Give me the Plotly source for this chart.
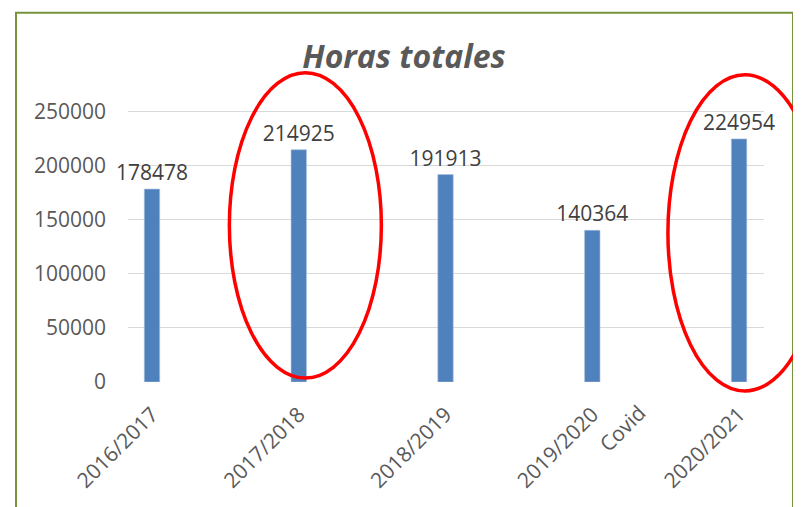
import plotly.graph_objects as go

categories = ["2016/2017", "2017/2018", "2018/2019", "2019/2020", "2020/2021"]
horas = [178478, 214925, 191913, 140364, 224954]
y_ticks = [0, 50000, 100000, 150000, 200000, 250000]
highlighted = [1, 4]  # categories circled in red
note_text = "Covid"
note_category = 3

W, H = 801, 507
OFF = 8  # page body margin offset
L, R, T, B = 128 - OFF, 801 - (764 - OFF), 101.2 - OFF, 507 - (382 - OFF)
xr = [-0.1635, 4.17]
yr = [0, 260000]
FONT = "Open Sans"

x_idx = list(range(len(categories)))

fig = go.Figure(go.Bar(
    x=x_idx, y=horas, width=0.105,
    marker=dict(color="#4F81BD", line=dict(color="#A9C0DE", width=0.6)),
    text=[str(v) for v in horas], textposition="outside",
    constraintext="none",
    textfont=dict(family=FONT, size=21, color="#404040"),
    cliponaxis=False,
))

pw = W - L - R
ph = H - T - B
def px_x(p):
    return (p - OFF - L) / pw
def px_y(p):
    return (H - B - (p - OFF)) / ph
def xp(v):
    return (v - xr[0]) / (xr[1] - xr[0])

shapes = []
# green chart border
shapes.append(dict(type="rect", xref="paper", yref="paper",
                   x0=px_x(16), x1=px_x(793), y0=px_y(530), y1=px_y(13),
                   line=dict(color="#77933C", width=2), fillcolor="rgba(0,0,0,0)"))
# red ellipses
for i, (dx, half_w, top_py, bot_py) in zip(highlighted, [(0.045, 76, 73, 378), (0.04, 77, 75, 391)]):
    c = xp(i + dx)
    shapes.append(dict(type="circle", xref="paper", yref="paper",
                       x0=c - half_w / pw, x1=c + half_w / pw,
                       y0=px_y(bot_py), y1=px_y(top_py),
                       line=dict(color="#FF0000", width=3.5)))

annotations = [dict(text=note_text, xref="paper", yref="paper",
                    x=xp(note_category + 0.205), y=px_y(428),
                    xanchor="center", yanchor="middle", textangle=-45,
                    showarrow=False,
                    font=dict(family=FONT, size=21, color="#595959"))]

fig.update_layout(
    width=W, height=H,
    margin=dict(l=L, r=R, t=T, b=B, autoexpand=False),
    paper_bgcolor="white", plot_bgcolor="white",
    showlegend=False,
    title=dict(text="<b><i>Horas totales</i></b>", x=(404 - OFF) / W, xanchor="center",
               y=1 - (57 - OFF) / H, yanchor="middle",
               font=dict(family=FONT, size=32, color="#595959")),
    xaxis=dict(range=xr, tickmode="array", tickvals=x_idx, ticktext=categories,
               tickangle=-45, showgrid=False, zeroline=False, showline=False,
               ticks="", ticklabelstandoff=15, automargin=False,
               tickfont=dict(family=FONT, size=21, color="#595959")),
    yaxis=dict(range=yr, tickmode="array", tickvals=y_ticks,
               ticktext=[str(v) for v in y_ticks],
               showgrid=True, gridcolor="#D9D9D9", gridwidth=1.3,
               zeroline=False, showline=False, ticks="",
               ticklabelstandoff=21, automargin=False,
               tickfont=dict(family=FONT, size=21, color="#595959")),
    shapes=shapes,
    annotations=annotations,
)

fig.write_html("out.html", config={"displayModeBar": False})
